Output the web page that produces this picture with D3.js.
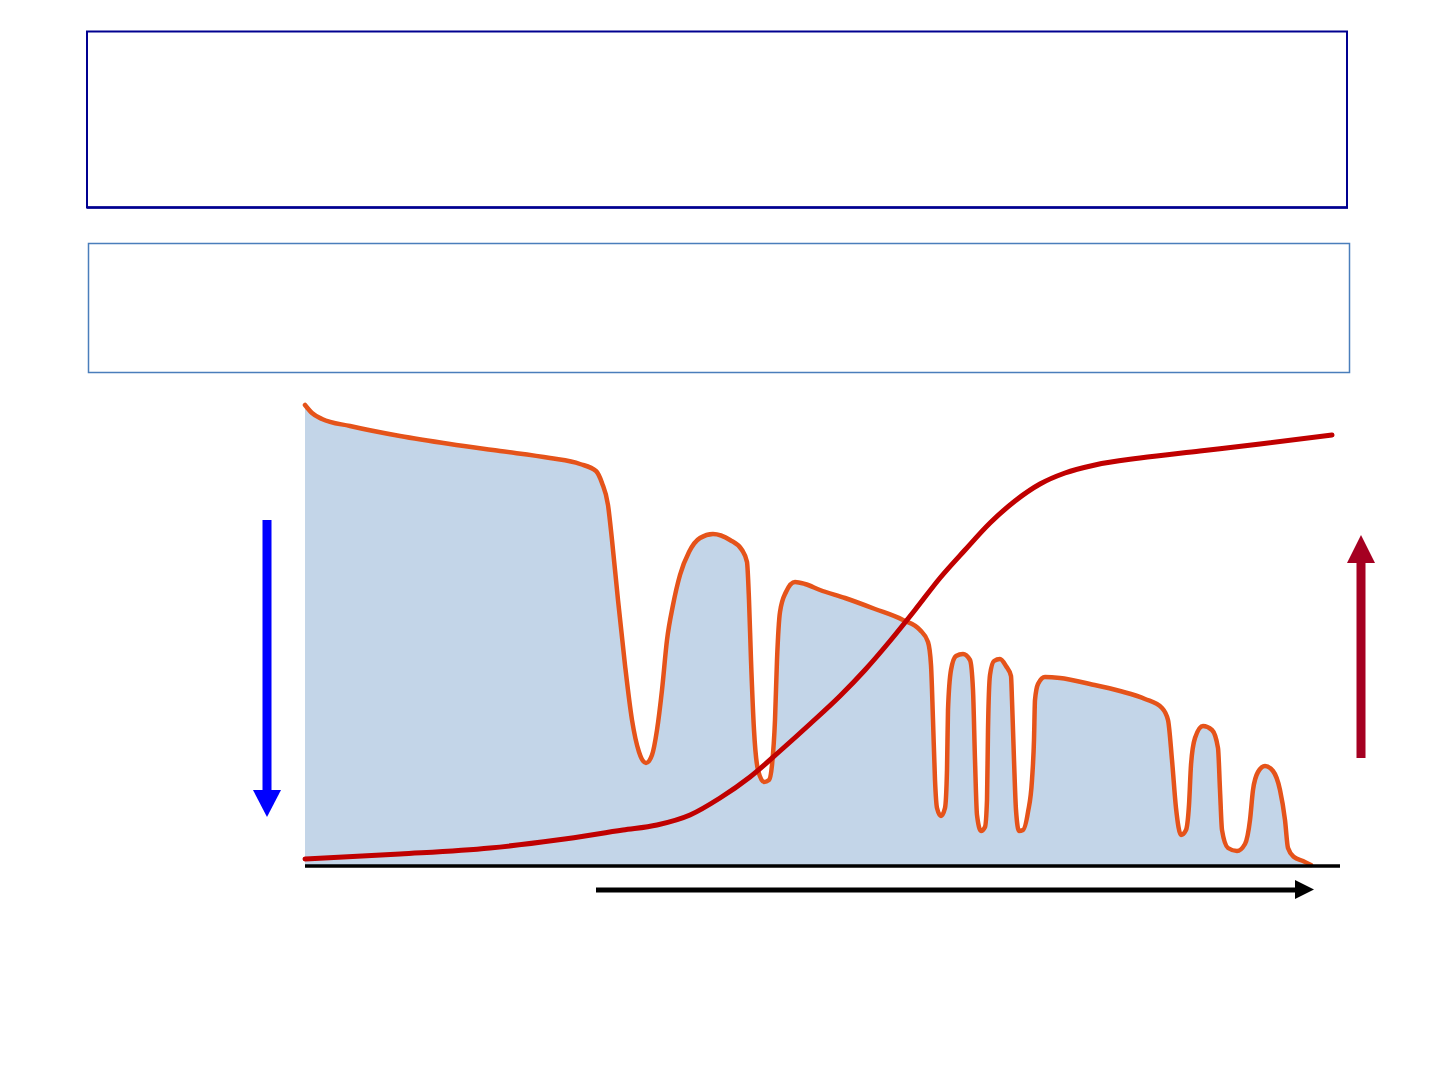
<!DOCTYPE html>
<html>
<head>
<meta charset="utf-8">
<script src="https://cdn.jsdelivr.net/npm/d3@7"></script>
<style>
  html, body { margin: 0; padding: 0; background: #ffffff; }
  svg { display: block; }
</style>
</head>
<body>
<svg id="chart" width="1441" height="1081"></svg>
<script>
// ---- Data (units: x along the horizontal axis, y height above baseline) ----
const spectrumX = [0,7,17,45,95,145,195,245,275,291,297,303,307,313,320,327,334,341,347,352,357,362,368,375,384,395,408,425,437,442,444,446,449,453,459,464,467,470,472,475,481,490,500,515,540,570,598,615,623,626,628,630,632,636,640,642,643,646,651,658,665,668,670,672,676,680,682,683,685,689,695,701,706,707,709,711,714,718,723,727,729,730,733,740,755,785,815,840,857,863,867,871,876,881,884,886,890,898,907,913,915,917,923,932,940,945,948,953,960,968,975,980,983,989,998,1006];
const spectrumY = [461,453,447,440,430,422,415,408,402,395,383,361,326,266,201,146,114,103,111,136,176,226,261,291,314,328,332,326,316,304,266,206,136,96,84,86,101,146,206,254,274,284,282,276,268,257,246,236,224,201,146,86,58,50,58,96,156,196,210,212,206,176,106,51,35,39,66,136,191,205,207,200,190,166,106,56,35,36,54,86,126,166,182,189,188,182,175,167,158,146,106,58,31,36,61,101,128,140,136,118,76,36,18,15,22,46,76,94,100,95,76,46,18,9,5,1];

const curveX = [0,95,185,252,318,352,385,415,445,475,505,535,560,585,610,635,660,685,710,735,760,790,835,895,955,1027];
const curveY = [7,12,18,26,36,41,51,68,89,115,142,170,196,225,256,288,316,343,365,382,393,401,408,415,422,431];

const xDomain = [0, 1035];
const yDomain = [0, 461];

// ---- Layout ----
const svg = d3.select("#chart");
const x = d3.scaleLinear().domain(xDomain).range([305, 1340]);
const y = d3.scaleLinear().domain(yDomain).range([866, 405]);

// Top boxes
svg.append("rect").attr("x", 87).attr("y", 31.5).attr("width", 1260).attr("height", 176)
  .attr("fill", "none").attr("stroke", "#000090").attr("stroke-width", 2);
svg.append("line").attr("x1", 87).attr("x2", 1348).attr("y1", 207.5).attr("y2", 207.5)
  .attr("stroke", "#000090").attr("stroke-width", 2.5);
svg.append("rect").attr("x", 88.5).attr("y", 243.5).attr("width", 1261).attr("height", 129)
  .attr("fill", "none").attr("stroke", "#4a7ebb").attr("stroke-width", 1.5);

const spectrum = spectrumX.map((d, i) => [d, spectrumY[i]]);
const sCurve = curveX.map((d, i) => [d, curveY[i]]);

// Area under spectrum
svg.append("path")
  .datum(spectrum)
  .attr("fill", "#c3d5e8")
  .attr("d", d3.area().x(d => x(d[0])).y0(y(0)).y1(d => y(d[1])).curve(d3.curveMonotoneX));

// Spectrum line
svg.append("path")
  .datum(spectrum)
  .attr("fill", "none")
  .attr("stroke", "#e5531a")
  .attr("stroke-width", 4.5)
  .attr("stroke-linejoin", "round")
  .attr("stroke-linecap", "round")
  .attr("d", d3.line().x(d => x(d[0])).y(d => y(d[1])).curve(d3.curveMonotoneX));

// Baseline
svg.append("line")
  .attr("x1", x(0)).attr("x2", x(1035)).attr("y1", y(0)).attr("y2", y(0))
  .attr("stroke", "#000").attr("stroke-width", 3.5);

// S-curve
svg.append("path")
  .datum(sCurve)
  .attr("fill", "none")
  .attr("stroke", "#c00000")
  .attr("stroke-width", 5)
  .attr("stroke-linecap", "round")
  .attr("d", d3.line().x(d => x(d[0])).y(d => y(d[1])).curve(d3.curveMonotoneX));

// Horizontal black arrow
svg.append("line").attr("x1", 596).attr("x2", 1298).attr("y1", 890).attr("y2", 890)
  .attr("stroke", "#000").attr("stroke-width", 5);
svg.append("path").attr("d", "M1295,880 L1314,889.5 L1295,899 Z").attr("fill", "#000");

// Blue down arrow
svg.append("line").attr("x1", 267).attr("x2", 267).attr("y1", 520).attr("y2", 792)
  .attr("stroke", "#0000ff").attr("stroke-width", 9);
svg.append("path").attr("d", "M253,790 L281,790 L267,817 Z").attr("fill", "#0000ff");

// Dark red up arrow
svg.append("line").attr("x1", 1361).attr("x2", 1361).attr("y1", 758).attr("y2", 560)
  .attr("stroke", "#a50021").attr("stroke-width", 9);
svg.append("path").attr("d", "M1347,563 L1375,563 L1361,535 Z").attr("fill", "#a50021");
</script>
</body>
</html>
